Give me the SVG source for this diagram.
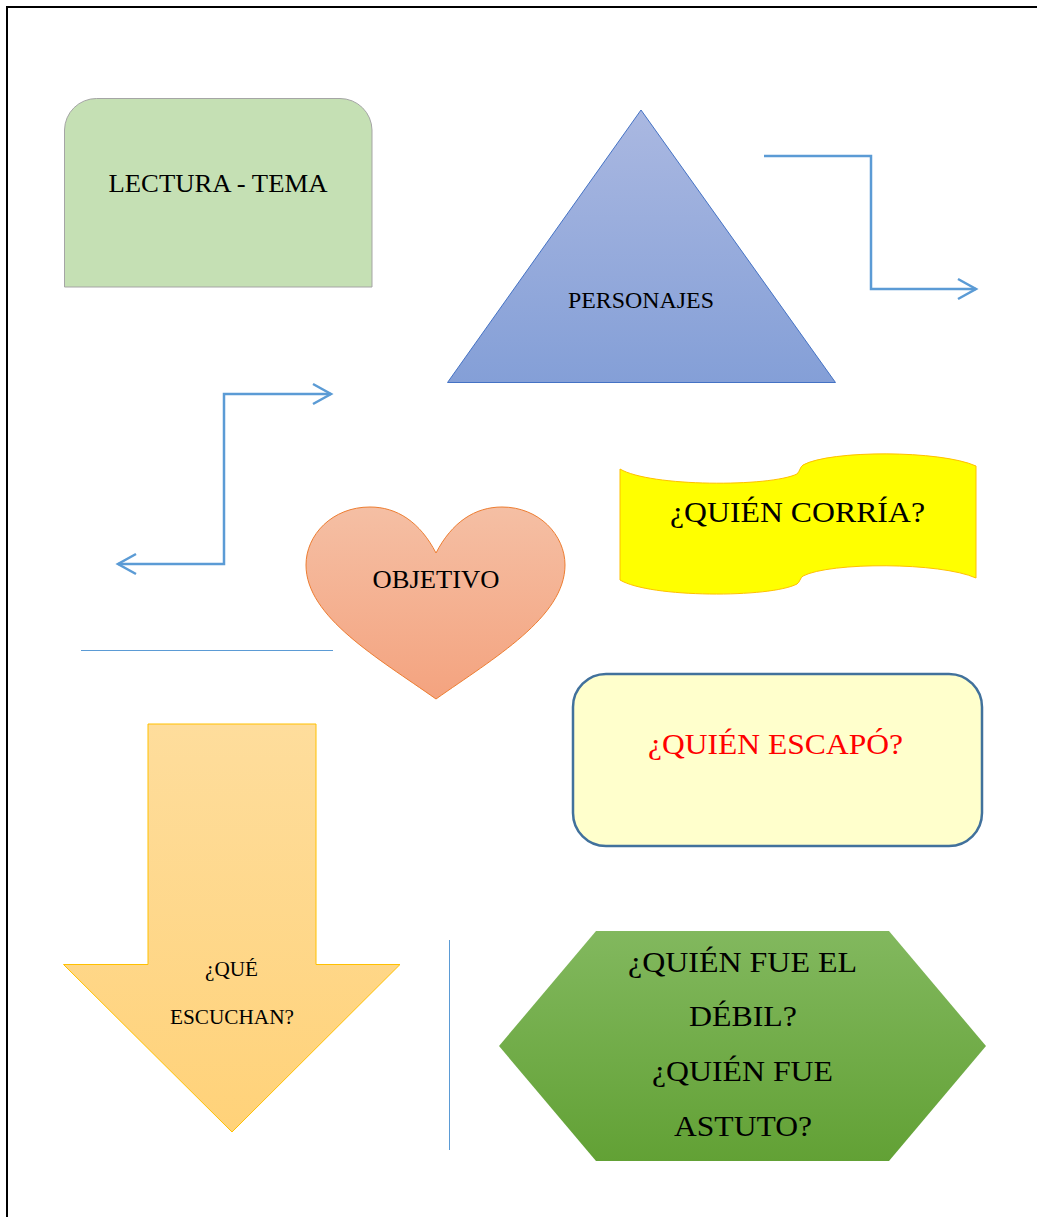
<svg xmlns="http://www.w3.org/2000/svg" width="1037" height="1217" viewBox="0 0 1037 1217">
<style>
text{font-family:"Liberation Serif","Times New Roman",serif;fill:#000;text-anchor:middle}
.conn{fill:none;stroke:#5B9BD5;stroke-width:2.5}
.thin{fill:none;stroke:#5B9BD5;stroke-width:1}
</style>
<defs>
<marker id="chev" markerUnits="userSpaceOnUse" markerWidth="24" markerHeight="24" viewBox="-20 -12 24 24" refX="0" refY="0" orient="auto-start-reverse">
<path d="M -18 -10 L 0 0 L -18 10" fill="none" stroke="#5B9BD5" stroke-width="2.5"/>
</marker>
<linearGradient id="gTri" x1="0" y1="0" x2="0" y2="1"><stop offset="0" stop-color="#AAB8E1"/><stop offset="1" stop-color="#849FD7"/></linearGradient>
<linearGradient id="gHeart" x1="0" y1="0" x2="0" y2="1"><stop offset="0" stop-color="#F5BFA4"/><stop offset="1" stop-color="#F4A37F"/></linearGradient>
<linearGradient id="gArrow" x1="0" y1="0" x2="0" y2="1"><stop offset="0" stop-color="#FEDD9C"/><stop offset="1" stop-color="#FFD279"/></linearGradient>
<linearGradient id="gHex" x1="0" y1="0" x2="0" y2="1"><stop offset="0" stop-color="#82B85E"/><stop offset="1" stop-color="#62A135"/></linearGradient>
</defs>
<rect width="1037" height="1217" fill="#fff"/>
<g id="frame">
<line x1="6" y1="7" x2="1037" y2="7" stroke="#000" stroke-width="2"/>
<line x1="7" y1="6" x2="7" y2="1217" stroke="#000" stroke-width="2"/>
</g>
<g id="connectors">
<path class="conn" d="M 764 156 L 871 156 L 871 289 L 976 289" marker-end="url(#chev)"/>
<path class="conn" d="M 118 564 L 224 564 L 224 394 L 331 394" marker-start="url(#chev)" marker-end="url(#chev)"/>
<line class="thin" x1="81" y1="650.5" x2="333" y2="650.5"/>
<line class="thin" x1="449.5" y1="940" x2="449.5" y2="1150" stroke="#5B87C5"/>
</g>
<g id="lectura">
<path d="M 64.5 287 L 64.5 130 A 32 32 0 0 1 96.5 98.5 L 340 98.5 A 32 32 0 0 1 372 130 L 372 287 Z" fill="#C5E0B4" stroke="#A5A5A5" stroke-width="1"/>
<text x="218" y="192" font-size="25" textLength="219" lengthAdjust="spacingAndGlyphs">LECTURA - TEMA</text>
</g>
<g id="personajes">
<polygon points="641,110 835.5,382.5 447.5,382.5" fill="url(#gTri)" stroke="#4472C4" stroke-width="1"/>
<text x="641" y="308" font-size="23" textLength="146" lengthAdjust="spacingAndGlyphs">PERSONAJES</text>
</g>
<g id="objetivo">
<path d="M 436 553 C 420 522, 397 507, 370 507 C 332 507, 306 535, 306 565 C 306 617, 378 658, 436 699 C 494 658, 565 617, 565 565 C 565 535, 539 507, 502 507 C 475 507, 452 522, 436 553 Z" fill="url(#gHeart)" stroke="#ED7D31" stroke-width="1"/>
<text x="436" y="588" font-size="26" textLength="127" lengthAdjust="spacingAndGlyphs">OBJETIVO</text>
</g>
<g id="corria">
<path d="M 620 469 C 650 487, 770 487, 797 474 C 800 471, 800 467, 803 465 C 830 450, 940 450, 976 466 L 976 578 C 940 562, 830 562, 803 576 C 800 578, 800 582, 797 584 C 770 598, 650 598, 620 580 Z" fill="#FFFF00" stroke="#FFC000" stroke-width="1"/>
<text x="797.5" y="522" font-size="30" textLength="255" lengthAdjust="spacingAndGlyphs">¿QUIÉN CORRÍA?</text>
</g>
<g id="escapo">
<rect x="573" y="674" width="409" height="172" rx="33" ry="33" fill="#FFFFCC" stroke="#41719C" stroke-width="2.5"/>
<text x="775.5" y="754" font-size="30" textLength="255" lengthAdjust="spacingAndGlyphs" style="fill:#FF0000">¿QUIÉN ESCAPÓ?</text>
</g>
<g id="escuchan">
<polygon points="148,724 316,724 316,964.5 400,964.5 232,1132 63.5,964.5 148,964.5" fill="url(#gArrow)" stroke="#FFC000" stroke-width="1"/>
<text x="231.5" y="976" font-size="20" textLength="53" lengthAdjust="spacingAndGlyphs">¿QUÉ</text>
<text x="232" y="1024" font-size="20" textLength="124" lengthAdjust="spacingAndGlyphs">ESCUCHAN?</text>
</g>
<g id="debil">
<polygon points="596,931 889,931 986,1046 889,1161 596,1161 499,1046" fill="url(#gHex)"/>
<text x="742.5" y="972" font-size="30" textLength="229" lengthAdjust="spacingAndGlyphs">¿QUIÉN FUE EL</text>
<text x="743" y="1026" font-size="30" textLength="108" lengthAdjust="spacingAndGlyphs">DÉBIL?</text>
<text x="742.5" y="1081" font-size="30" textLength="181" lengthAdjust="spacingAndGlyphs">¿QUIÉN FUE</text>
<text x="743" y="1136" font-size="30" textLength="138" lengthAdjust="spacingAndGlyphs">ASTUTO?</text>
</g>
</svg>
